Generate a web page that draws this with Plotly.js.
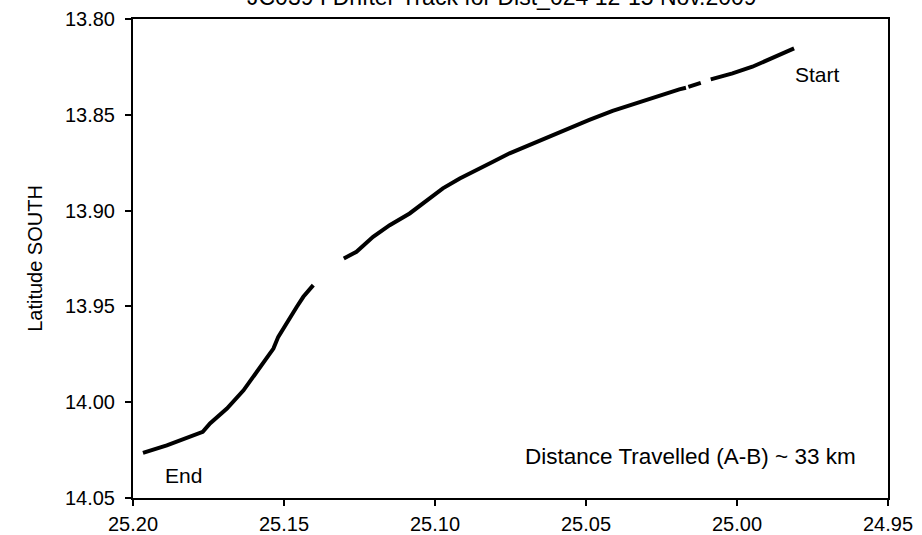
<!DOCTYPE html>
<html>
<head>
<meta charset="utf-8">
<script src="https://cdn.plot.ly/plotly-3.0.1.min.js"></script>
<style>html,body{margin:0;padding:0;background:#fff;}#chart{width:922px;height:535px;}</style>
</head>
<body>
<div id="chart"></div>
<script>
// Drifter track, from Start to End (null = gap in the record)
const longitude = [24.9811, 24.9916, 24.9949, 25.0015, 25.0087, null, 25.0120, 25.0161, null,
  25.0169, 25.0191, 25.0268, 25.0334, 25.0412, 25.0489, 25.0555, 25.0621, 25.0687, 25.0753,
  25.0808, 25.0874, 25.0918, 25.0974, 25.1023, 25.1084, 25.1150, 25.1205, 25.1260, 25.1302, null,
  25.1403, 25.1436, 25.1458, 25.1486, 25.1519, 25.1535, 25.1585, 25.1634, 25.1689, 25.1745,
  25.1769, 25.1833, 25.1888, 25.1967];
const latitude = [13.8153, 13.8223, 13.8249, 13.8284, 13.8315, null, 13.8333, 13.8354, null,
  13.8359, 13.8367, 13.8406, 13.8440, 13.8479, 13.8527, 13.8571, 13.8615, 13.8658, 13.8701,
  13.8745, 13.8798, 13.8832, 13.8884, 13.8945, 13.9015, 13.9076, 13.9137, 13.9215, 13.9250, null,
  13.9389, 13.9450, 13.9503, 13.9572, 13.9659, 13.9720, 13.9833, 13.9938, 14.0033, 14.0111,
  14.0155, 14.0195, 14.0225, 14.0265];
const xTicks = [25.20, 25.15, 25.10, 25.05, 25.00, 24.95];
const yTicks = [13.80, 13.85, 13.90, 13.95, 14.00, 14.05];
const chartTitle = "JC039 I Drifter Track for Dist_024 12-15 Nov.2009";
const yTitle = "Latitude SOUTH";
const labelStart = "Start";
const labelEnd = "End";
const labelDistance = "Distance Travelled (A-B) ~ 33 km";

const FONT = "Arial, 'Liberation Sans', sans-serif";

const trace = {
  x: longitude, y: latitude, type: 'scatter', mode: 'lines',
  connectgaps: false,
  line: {color: '#000', width: 4},
  hoverinfo: 'skip'
};

const layout = {
  width: 922, height: 535,
  margin: {l: 133, r: 34, t: 19, b: 37},
  paper_bgcolor: '#fff', plot_bgcolor: '#fff',
  showlegend: false,
  font: {family: FONT, color: '#000', size: 20},
  xaxis: {
    range: [25.20, 24.95], autorange: false,
    tickvals: xTicks, ticktext: xTicks.map(v => v.toFixed(2)),
    showgrid: false, zeroline: false,
    showline: true, mirror: true, linecolor: '#000', linewidth: 2,
    ticks: 'outside', ticklen: 6, tickwidth: 2, tickcolor: '#000',
    tickfont: {family: FONT, size: 20, color: '#000'},
    ticklabelstandoff: 1
  },
  yaxis: {
    range: [14.05, 13.80], autorange: false,
    tickvals: yTicks, ticktext: yTicks.map(v => v.toFixed(2)),
    showgrid: false, zeroline: false,
    showline: true, mirror: true, linecolor: '#000', linewidth: 2,
    ticks: 'outside', ticklen: 6, tickwidth: 2, tickcolor: '#000',
    tickfont: {family: FONT, size: 20, color: '#000'},
    ticklabelstandoff: 6,
    title: {text: yTitle, font: {family: FONT, size: 20, color: '#000'}, standoff: 17}
  },
  annotations: [
    {text: chartTitle, x: 0.489, y: 1, xref: 'paper', yref: 'paper', yshift: 22, showarrow: false,
     xanchor: 'center', yanchor: 'middle', font: {family: FONT, size: 23, color: '#000'}},
    {text: labelStart, x: 24.9735, y: 13.8292, xref: 'x', yref: 'y', showarrow: false,
     xanchor: 'center', yanchor: 'middle', font: {family: FONT, size: 21, color: '#000'}},
    {text: labelEnd, x: 25.1834, y: 14.0381, xref: 'x', yref: 'y', showarrow: false,
     xanchor: 'center', yanchor: 'middle', font: {family: FONT, size: 21, color: '#000'}},
    {text: labelDistance, x: 25.0155, y: 14.0285, xref: 'x', yref: 'y', showarrow: false,
     xanchor: 'center', yanchor: 'middle', font: {family: FONT, size: 22.5, color: '#000'}}
  ]
};

Plotly.newPlot('chart', [trace], layout, {staticPlot: true, displayModeBar: false});
</script>
</body>
</html>
